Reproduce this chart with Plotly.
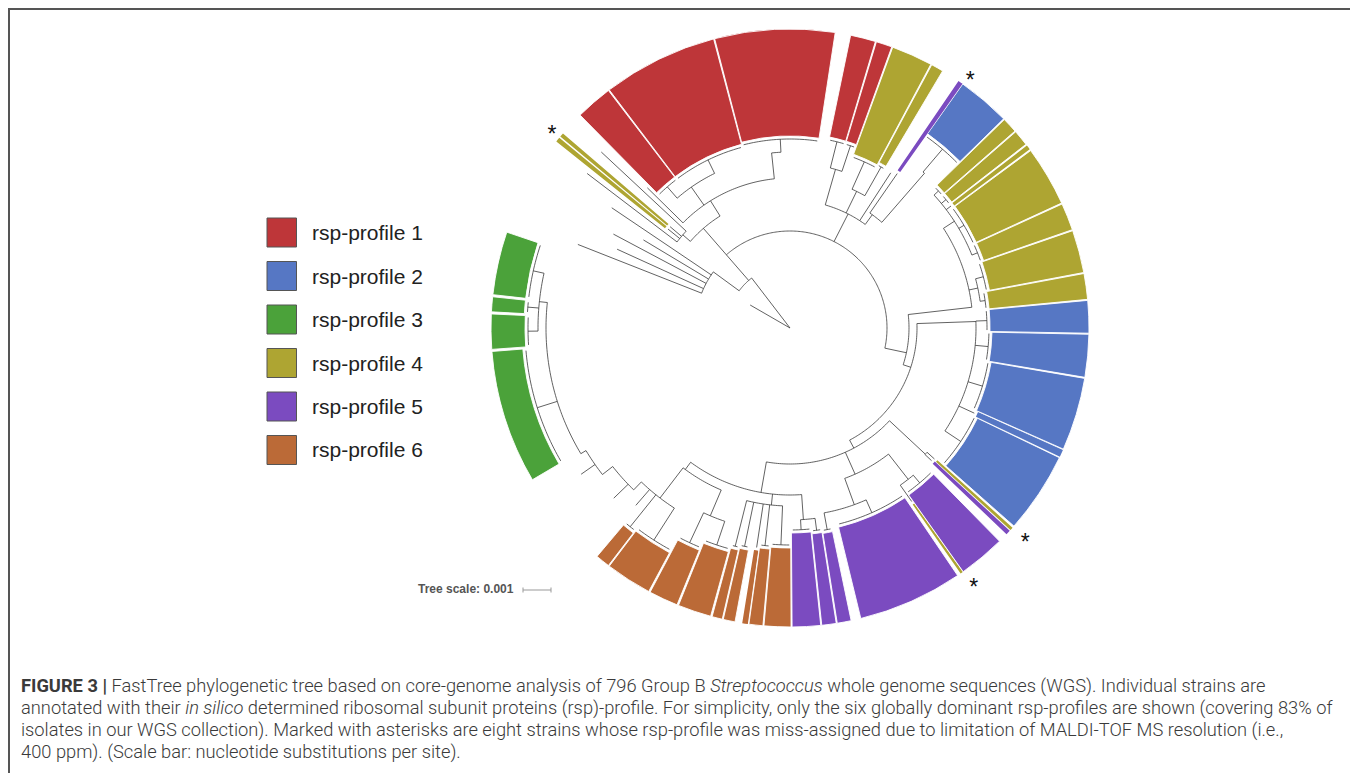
import plotly.graph_objects as go

W, H = 1358, 773           # browser window
OFF = 8                    # default body margin of the written page
FW, FH = W - OFF, H - OFF  # figure size
CX, CY = 790, 328          # centre of the circular tree (window px)
RMAX = 320                 # radial axis range, 1 unit = 1 px

# ---------------- data ----------------
profile_names = ["rsp-profile 1", "rsp-profile 2", "rsp-profile 3",
                 "rsp-profile 4", "rsp-profile 5", "rsp-profile 6"]
profile_colors = ["#be3639", "#5677c4", "#4ba23a", "#aea532", "#7b4bc0", "#bb6a37"]

# colour-range blocks (angle in degrees, counter-clockwise from east)
block_name = ["G4", "G3", "G2", "G1", "O1", "O2", "O3", "O4", "O5", "O6", "O7", "O8", "O9",
              "P5", "P4", "P3", "P2", "Yl", "P1", "Ps2", "Ys2",
              "B5", "B4", "B3", "B2", "B1",
              "Y8", "Y7", "Y6", "Y5", "Y4b", "Y4", "Y3",
              "B0", "P0", "Y2", "Y1", "R5", "R4", "R3", "R2", "R1", "Ys1a", "Ys1b"]
block_profile = [3, 3, 3, 3, 6, 6, 6, 6, 6, 6, 6, 6, 6,
                 5, 5, 5, 5, 4, 5, 5, 4,
                 2, 2, 2, 2, 2,
                 4, 4, 4, 4, 4, 4, 4,
                 2, 5, 4, 4, 1, 1, 1, 1, 1, 4, 4]
block_start = [-198.7, -186.0, -182.7, -175.5, -130.2, -127.2, -117.9, -111.9, -105.1, -102.9, -99.2, -97.9, -95.0,
               -89.6, -83.9, -80.9, -76.3, -55.2, -54.6, -43.6, -42.5,
               -41.5, -25.5, -23.9, -9.5, -1.0,
               5.5, 10.7, 19.2, 24.7, 36.7, 37.9, 41.2,
               44.4, 54.75, 59.3, 61.9, 70.1, 73.4, 81.3, 104.8, 127.4, 139.4, 140.5]
block_end = [-186.4, -183.1, -175.9, -149.5, -127.4, -118.2, -112.2, -105.4, -103.1, -100.6, -98.1, -95.2, -89.8,
             -84.1, -81.1, -78.2, -55.9, -54.7, -45.5, -42.7, -41.9,
             -25.7, -24.1, -9.7, -1.2, 5.3,
             10.5, 19.0, 24.5, 36.4, 37.6, 41.0, 44.2,
             54.7, 55.7, 61.7, 69.9, 73.2, 78.3, 104.6, 127.2, 134.6, 140.2, 141.4]
block_inner = [266, 266, 265, 268, 258, 255, 240, 232, 228, 226, 225, 222, 220,
               205, 207, 208, 205, 215, 205, 197, 198,
               208, 206, 204, 202, 200,
               200, 203, 205, 205, 205, 205, 205,
               238, 191, 188, 185, 195, 195, 192, 190, 190, 160, 160]
block_parent = ["nG", "nG", "nG", "L4", "L1", "L1", "nO3", "nO3", "nO", "nO", "nO", "nO", "nO",
                "nP45", "nP45", "nP2", "nP2", "nP1", "nP1", "nStrip", "nStrip",
                "nBR", "nBR", "nBR", "nBR", "nBR",
                "nYR1", "nYR1", "nYR2", "nYR2", "nYR2", "nYR2", "nYR2",
                "nB0", "nBt", "nYt", "nYt", "nRed45", "nRed45", "nR3", "nR12", "nR12", "nYs", "nYs"]
block_outer = 299

# internal nodes of the tree: name, parent, radius, angle
node_name = ["root", "n1", "nB", "nA", "nRedC", "nRedA", "nR12", "nR3", "nYs",
             "nTop", "nRed45", "nYt", "nBt", "nB0",
             "X", "nYR", "nYR1", "nYR2", "Y", "nBR", "Z", "nStrip", "nP", "nP1", "nP2",
             "W", "nP45", "nO", "nO2", "nO3", "L1", "L2", "L3", "L4", "nG"]
node_parent = [None, "root", "n1", "n1", "nA", "nRedC", "nRedA", "nRedA", "nRedC",
               "nA", "nTop", "nTop", "nTop", "nBt",
               "nA", "X", "nYR", "nYR", "X", "Y", "Y", "Z", "Z", "nP", "nP",
               "Z", "W", "W", "W", "nO2", "nO2", "L1", "L2", "L3", "L4"]
node_r = [0, 63, 95, 97, 132, 150, 172, 176, 142,
          128, 165, 152, 140, 205,
          119, 183, 192, 196, 127, 186, 136, 185, 160, 192, 188,
          167, 192, 178, 176, 204, 214, 225, 238, 244, 252]
node_theta = [0, 127.5, 143.8, 131, 131, 122, 125, 96, 139,
              63, 74, 64, 54, 49,
              -12, 6.5, 12, 33, -18, 2, -62, -43, -66, -52, -70,
              -100, -86, -96, -126.5, -113, -127.4, -134, -142, -149, -186]

# single strains drawn as plain leaves
leaf_parent = ["root", "nB", "nB", "nB", "nB", "nB", "nYs", "nYs", "L1", "L2", "L3", "nRedA", "nTop"]
leaf_theta = [150, 149, 152, 155.5, 158.5, 146, 137, 142.7, -131, -136, -145, 135.5, 57]
leaf_r = [46, 171, 200, 190, 228, 215, 258, 255, 235, 245, 255, 200, 185]

# mis-assigned strains (asterisks)
star_theta = [53.8, 141.1, -42.6, -54.9]
star_r = [305, 306, 319.5, 319.5]

# tree scale
scale_label = "Tree scale: 0.001"

caption_lines = [
    "<b>FIGURE 3 |</b> FastTree phylogenetic tree based on core-genome analysis of 796 Group B <i>Streptococcus</i> whole genome sequences (WGS). Individual strains are",
    "annotated with their <i>in silico</i> determined ribosomal subunit proteins (rsp)-profile. For simplicity, only the six globally dominant rsp-profiles are shown (covering 83% of",
    "isolates in our WGS collection). Marked with asterisks are eight strains whose rsp-profile was miss-assigned due to limitation of MALDI-TOF MS resolution (i.e.,",
    "400 ppm). (Scale bar: nucleotide substitutions per site).",
]

# ---------------- figure ----------------
fig = go.Figure()

# colour ranges
for i in range(len(block_name)):
    w = block_end[i] - block_start[i]
    fig.add_trace(go.Barpolar(
        theta=[(block_start[i] + block_end[i]) / 2],
        width=[w],
        base=[block_inner[i]],
        r=[block_outer - block_inner[i]],
        marker=dict(color=profile_colors[block_profile[i] - 1],
                    line=dict(color="white", width=0.9 if w > 1.5 else 0)),
        showlegend=False, hoverinfo="skip",
    ))

# tree geometry
pos = {n: (r, t) for n, r, t in zip(node_name, node_r, node_theta)}
children = {n: [] for n in node_name}
for n, p in zip(node_name, node_parent):
    if p is not None:
        children[p].append(node_theta[node_name.index(n)])
for p, t in zip(block_parent, block_name):
    i = block_name.index(t)
    children[p].append((block_start[i] + block_end[i]) / 2)
for p, t in zip(leaf_parent, leaf_theta):
    children[p].append(t)

lr, lt = [], []


def add_arc(r, t0, t1):
    n = max(2, int(abs(t1 - t0) / 0.8) + 2)
    for k in range(n):
        lr.append(r)
        lt.append(t0 + (t1 - t0) * k / (n - 1))
    lr.append(None)
    lt.append(None)


def add_radial(r0, r1, t):
    lr.extend([r0, r1, None])
    lt.extend([t, t, None])


for n in node_name:
    r, t = pos[n]
    angs = children[n] + [t]
    if r > 0 and len(angs) > 1:
        add_arc(r, min(angs), max(angs))
for n, p in zip(node_name, node_parent):
    if p is not None:
        add_radial(pos[p][0], pos[n][0], pos[n][1])
for i in range(len(block_name)):
    pr = pos[block_parent[i]][0]
    mid = (block_start[i] + block_end[i]) / 2
    tip = block_inner[i] - 3
    add_radial(pr, tip, mid)
    if block_end[i] - block_start[i] > 1.5:
        add_arc(tip, block_start[i] + 0.4, block_end[i] - 0.4)
for p, t, r in zip(leaf_parent, leaf_theta, leaf_r):
    add_radial(pos[p][0], r, t)

fig.add_trace(go.Scatterpolar(r=lr, theta=lt, mode="lines",
                              line=dict(color="#3a3a3a", width=0.8),
                              showlegend=False, hoverinfo="skip", connectgaps=False))

fig.add_trace(go.Scatterpolar(r=star_r, theta=star_theta, mode="text", text=["*"] * len(star_r),
                              textfont=dict(family="Liberation Sans", size=23, color="#111"),
                              cliponaxis=False, showlegend=False, hoverinfo="skip"))


def px(x):
    return (x - OFF) / FW


def py(y):
    return 1 - (y - OFF) / FH


fig.update_layout(
    width=FW, height=FH,
    margin=dict(l=0, r=0, t=0, b=0),
    paper_bgcolor="white",
    polar=dict(
        domain=dict(x=[px(CX - RMAX), px(CX + RMAX)],
                    y=[py(CY + RMAX), min(1.0, py(CY - RMAX))]),
        bgcolor="rgba(0,0,0,0)",
        radialaxis=dict(visible=False, range=[0, RMAX]),
        angularaxis=dict(visible=False, rotation=0, direction="counterclockwise"),
        hole=0,
    ),
)

shapes = []
annotations = []

# frame
shapes.append(dict(type="rect", xref="paper", yref="paper",
                   x0=px(9), x1=px(1353), y0=py(800), y1=py(9),
                   line=dict(color="#555", width=2)))

# legend
legend_y = [232.5, 276, 319.5, 363, 406.5, 450]
for i, name in enumerate(profile_names):
    yc = legend_y[i]
    shapes.append(dict(type="rect", xref="paper", yref="paper",
                       x0=px(267), x1=px(296.5), y0=py(yc + 14.5), y1=py(yc - 14.5),
                       fillcolor=profile_colors[i], line=dict(color="#555", width=1)))
    annotations.append(dict(x=px(310), y=py(yc), xref="paper", yref="paper",
                            xanchor="left", yanchor="middle", showarrow=False,
                            text=name, font=dict(family="Liberation Sans", size=21, color="#222")))

# tree scale
annotations.append(dict(x=px(416), y=py(589), xref="paper", yref="paper",
                        xanchor="left", yanchor="middle", showarrow=False,
                        text="<b>" + scale_label + "</b>",
                        font=dict(family="Liberation Sans", size=12, color="#555")))
shapes.append(dict(type="line", xref="paper", yref="paper", x0=px(523), x1=px(551),
                   y0=py(590), y1=py(590), line=dict(color="#999", width=1)))
for xx in (523, 551):
    shapes.append(dict(type="line", xref="paper", yref="paper", x0=px(xx), x1=px(xx),
                       y0=py(587.5), y1=py(592.5), line=dict(color="#999", width=1)))

# caption
cap_y = [686, 708, 730, 752]
for line, yc in zip(caption_lines, cap_y):
    annotations.append(dict(x=px(19), y=py(yc), xref="paper", yref="paper",
                            xanchor="left", yanchor="middle", showarrow=False,
                            text=line, font=dict(family="Roboto", size=18.3, color="#3a3a3a", weight=300)))

fig.update_layout(shapes=shapes, annotations=annotations)
fig.write_html("out.html")
